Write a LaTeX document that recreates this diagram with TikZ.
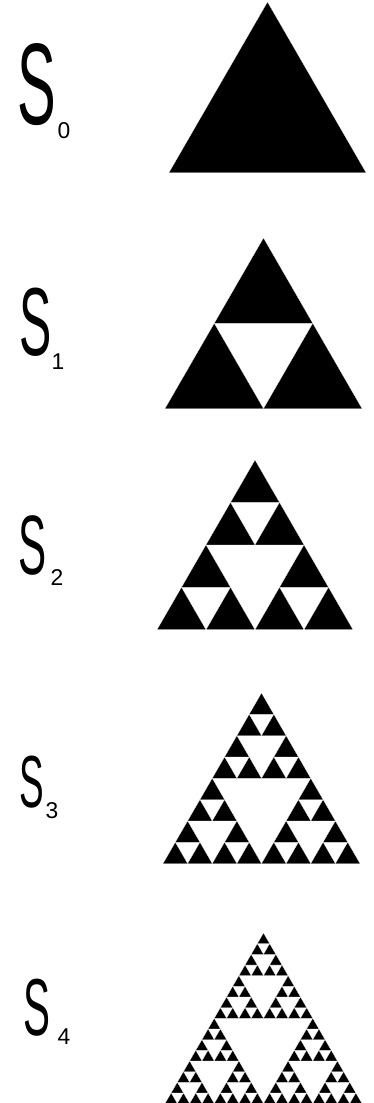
\documentclass[tikz,border=0pt]{standalone}
\usepackage{fontspec}
\setmainfont{Liberation Sans}

\tikzset{
  handS/.style={inner sep=0pt, anchor=center},
  handsub/.style={inner sep=0pt, anchor=center, font=\fontsize{13}{13}\selectfont},
  tri/.style={fill=black, draw=white, line width=0.1pt},
}

% Sierpinski triangle: level, apex x, apex y, side
\newcommand\sierpinski[4]{%
  \ifnum#1=0\relax
    \path[tri] (#2,#3) -- ++(-#4/2,0.866*#4) -- ++(#4,0) -- cycle;
  \else
    \begingroup
    \pgfmathtruncatemacro\sublevel{#1-1}%
    \pgfmathsetmacro\subside{#4/2}%
    \pgfmathsetmacro\leftx{#2-#4/4}%
    \pgfmathsetmacro\rightx{#2+#4/4}%
    \pgfmathsetmacro\lowy{#3+0.433*#4}%
    \edef\sierpnext{%
      \noexpand\sierpinski{\sublevel}{#2}{#3}{\subside}%
      \noexpand\sierpinski{\sublevel}{\leftx}{\lowy}{\subside}%
      \noexpand\sierpinski{\sublevel}{\rightx}{\lowy}{\subside}}%
    \sierpnext
    \endgroup
  \fi}

\begin{document}
\begin{tikzpicture}[x=0.02cm, y=-0.02cm]
  \useasboundingbox (0,0) rectangle (373,1103);

  % Labels S_0 ... S_4
  \foreach \n/\sx/\sy/\sz/\bx/\by in {0/37/85/66/64/131, 1/36/322/55/58/362,
      2/33/545/48/57/578, 3/32/782/42/52/811, 4/37/1008/46/64/1037} {
    \node[handS, font=\fontsize{\sz}{\sz}\selectfont] (label\n) at (\sx,\sy) {\scalebox{0.5}[1]{S}};
    \node[handsub] (sub\n) at (\bx,\by) {\n};
  }

  % Iterations
  \sierpinski{0}{267.5}{2}{197}
  \sierpinski{1}{263.5}{238}{197}
  \sierpinski{2}{255}{460}{196}
  \sierpinski{3}{261.5}{693}{197}
  \sierpinski{4}{263.5}{933}{197}
\end{tikzpicture}
\end{document}
